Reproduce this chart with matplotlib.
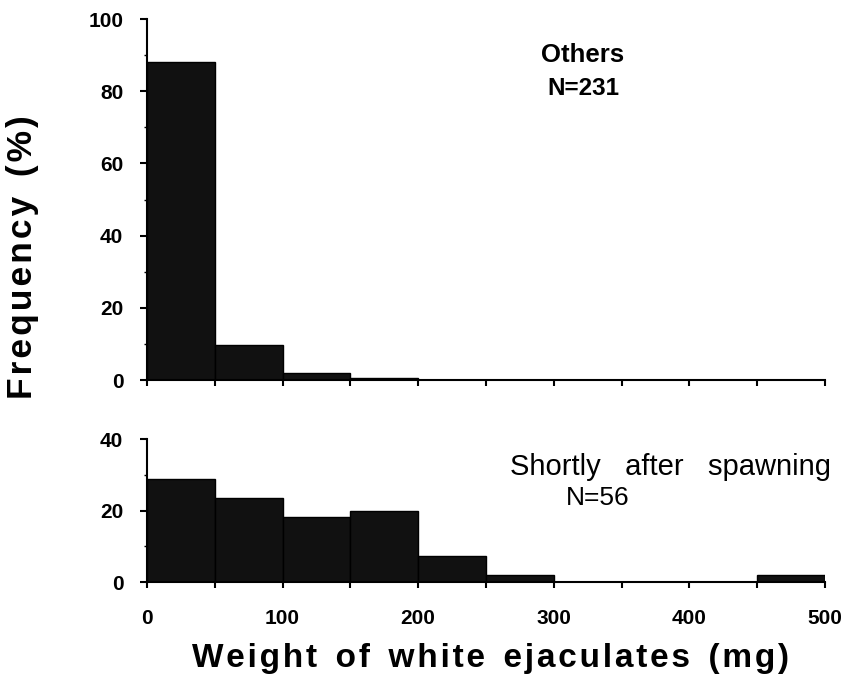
import numpy as np
import matplotlib
matplotlib.use("Agg")
import matplotlib.pyplot as plt
from matplotlib.ticker import MultipleLocator

# Données
bin_edges = [0, 50, 100, 150, 200, 250, 300, 350, 400, 450, 500]
others = [88.2, 9.7, 2.0, 0.5, 0, 0, 0, 0, 0, 0]
spawning = [28.9, 23.6, 18.2, 20.0, 7.3, 1.9, 0, 0, 0, 1.9]
label_others = ["Others", "N=231"]
label_spawning = ["Shortly   after   spawning", "N=56"]

plt.rcParams['font.family'] = ['Liberation Sans', 'DejaVu Sans']


def spaced(txt, sep="\u200a"):
    # espacement des lettres
    return "  ".join(sep.join(w) for w in txt.split())


fig = plt.figure(figsize=(8.48, 6.82), dpi=100)
ax1 = fig.add_axes([0.1733, 0.4428, 0.7995, 0.5293])
ax2 = fig.add_axes([0.1733, 0.1462, 0.7995, 0.2101])

left = np.array(bin_edges[:-1])
width = np.diff(bin_edges)

for ax, vals, ymax in [(ax1, others, 100), (ax2, spawning, 40)]:
    ax.bar(left, vals, width=width, align='edge', color='#111111',
           edgecolor='black', linewidth=1.0)
    ax.set_xlim(0, 500)
    ax.set_ylim(0, ymax)
    ax.spines['top'].set_visible(False)
    ax.spines['right'].set_visible(False)
    ax.spines['left'].set_linewidth(1.5)
    ax.spines['bottom'].set_linewidth(1.5)
    ax.xaxis.set_major_locator(MultipleLocator(100))
    ax.xaxis.set_minor_locator(MultipleLocator(50))
    ax.yaxis.set_major_locator(MultipleLocator(20))
    ax.yaxis.set_minor_locator(MultipleLocator(10))
    ax.tick_params(axis='x', which='both', length=4.5, width=1.5, direction='out', pad=15)
    ax.tick_params(axis='y', which='major', length=5, width=1.5, direction='out', pad=12)
    ax.tick_params(axis='y', which='minor', length=2.5, width=1.0, direction='out')
    for lab in ax.get_xticklabels() + ax.get_yticklabels():
        lab.set_fontweight('bold')
        lab.set_fontsize(15)

ax1.set_xticklabels([])

fig.text(583 / 848, 1 - 62 / 682, label_others[0], ha='center', va='baseline',
         fontsize=18.5, fontweight='bold')
fig.text(583 / 848, 1 - 95 / 682, label_others[1], ha='center', va='baseline',
         fontsize=17.5, fontweight='bold')
fig.text(671 / 848, 1 - 475 / 682, label_spawning[0], ha='center', va='baseline',
         fontsize=21)
fig.text(598 / 848, 1 - 505 / 682, label_spawning[1], ha='center', va='baseline',
         fontsize=19)

fig.text(490 / 848, 1 - 667 / 682, spaced("Weight of white ejaculates (mg)"),
         ha='center', va='baseline', fontsize=24, fontweight='bold')
fig.text(23 / 848, 1 - 257 / 682, spaced("Frequency (%)"), rotation=90,
         ha='center', va='center', fontsize=25.5, fontweight='bold')

plt.savefig("out.png", dpi=100)
